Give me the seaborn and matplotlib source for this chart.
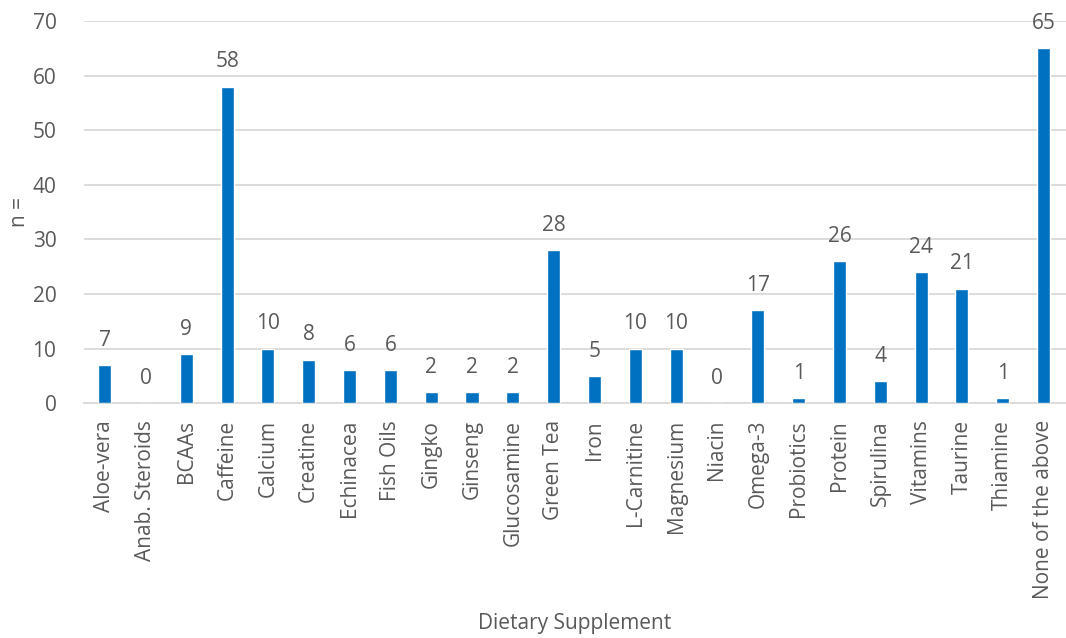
import seaborn as sns
import pandas as pd
import matplotlib.pyplot as plt

supplements = ['Aloe-vera', 'Anab. Steroids', 'BCAAs', 'Caffeine', 'Calcium',
               'Creatine', 'Echinacea', 'Fish Oils', 'Gingko', 'Ginseng',
               'Glucosamine', 'Green Tea', 'Iron', 'L-Carnitine', 'Magnesium',
               'Niacin', 'Omega-3', 'Probiotics', 'Protein', 'Spirulina',
               'Vitamins', 'Taurine', 'Thiamine', 'None of the above']
counts = [7, 0, 9, 58, 10, 8, 6, 6, 2, 2, 2, 28, 5, 10, 10, 0, 17, 1, 26, 4,
          24, 21, 1, 65]
y_ticks = [0, 10, 20, 30, 40, 50, 60, 70]

df = pd.DataFrame({'supplement': supplements, 'n': counts})

sns.set_theme(style='white')
plt.rcParams['font.family'] = ['Open Sans', 'DejaVu Sans']
TXT = '#595959'
FS = 15

fig = plt.figure(figsize=(10.66, 6.38), dpi=100)
ax = fig.add_axes([0.079, 0.368, 0.921, 0.599])

sns.barplot(data=df, x='supplement', y='n', color='#0070C0', width=0.32,
            saturation=1, ax=ax, zorder=3)

ax.set_ylim(0, 70)
ax.set_yticks(y_ticks)
ax.set_xlim(-0.5, len(supplements) - 0.45)
ax.yaxis.grid(True, color='#D9D9D9', linewidth=1.3, zorder=0)
for s in ['top', 'right', 'left']:
    ax.spines[s].set_visible(False)
ax.spines['bottom'].set_color('#D9D9D9')
ax.spines['bottom'].set_linewidth(1.3)

ax.tick_params(axis='y', labelsize=FS, colors=TXT, length=0, pad=20)
ax.tick_params(axis='x', labelsize=FS, colors=TXT, length=0, pad=12)
plt.setp(ax.get_xticklabels(), rotation=90)

for i, v in enumerate(counts):
    ax.text(i, v + 2.6, str(v), ha='center', va='bottom', fontsize=FS, color=TXT)

ax.set_xlabel('Dietary Supplement', fontsize=FS, color=TXT, labelpad=10)
ax.set_ylabel('n =', fontsize=FS, color=TXT, labelpad=2)

fig.savefig('out.png', dpi=100)
